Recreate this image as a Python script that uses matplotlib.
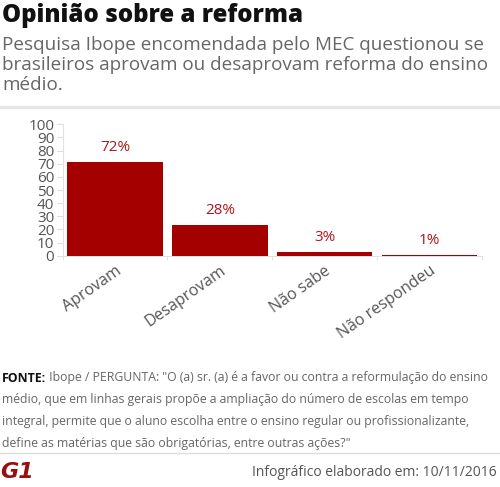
import matplotlib
matplotlib.use('Agg')
import matplotlib.pyplot as plt
from matplotlib.lines import Line2D

# dados
categorias = ['Aprovam', 'Desaprovam', 'Não sabe', 'Não respondeu']
valores = [71, 23.5, 2.6, 0.8]
rotulos = ['72%', '28%', '3%', '1%']
yticks = list(range(0, 101, 10))

W, H = 500, 487
plt.rcParams['font.family'] = ['Open Sans', 'DejaVu Sans']

fig = plt.figure(figsize=(W / 100, H / 100), dpi=100)
fig.patch.set_facecolor('white')


def fy(px):
    return 1 - px / H


# cabeçalho
fig.text(2 / W, fy(15), 'Opinião sobre a reforma', fontsize=17.3, fontweight='heavy',
         color='#111111', va='center', ha='left')
subtitulo = ['Pesquisa Ibope encomendada pelo MEC questionou se',
             'brasileiros aprovam ou desaprovam reforma do ensino',
             'médio.']
for i, linha in enumerate(subtitulo):
    fig.text(2 / W, fy(45 + i * 20), linha, fontsize=13.6, color='#666666',
             va='center', ha='left')
fig.add_artist(Line2D([0, 1], [fy(107), fy(107)], color='#e6e6e6', lw=2.5,
                      transform=fig.transFigure))

# gráfico
ax = fig.add_axes([62.5 / W, fy(255.7), (482 - 62.5) / W, (255.7 - 124.3) / H])
x = list(range(len(categorias)))
ax.bar(x, valores, width=0.91, color='#a50000', zorder=3)
for xi, v, r in zip(x, valores, rotulos):
    ax.annotate(r, (xi, v), xytext=(0, 5), textcoords='offset points',
                ha='center', va='bottom', fontsize=11, color='#b3131b')
ax.set_xlim(-0.5, len(categorias) - 0.5)
ax.set_ylim(0, 100)
ax.set_yticks(yticks)
ax.set_yticklabels([str(t) for t in yticks], fontsize=11, color='#555555')
ax.set_xticks(x)
ax.set_xticklabels(categorias, rotation=35, ha='right', rotation_mode='anchor',
                   fontsize=11.5, color='#555555')
ax.tick_params(axis='x', length=0, pad=5)
ax.set_xticks([i + 0.5 for i in range(-1, len(categorias))], minor=True)
ax.tick_params(axis='x', which='minor', length=3, color='#dddddd')
ax.tick_params(axis='y', length=4, color='#dddddd', pad=2)
for s in ['top', 'right']:
    ax.spines[s].set_visible(False)
for s in ['left', 'bottom']:
    ax.spines[s].set_color('#e2e2e2')

# rodapé
tam = 8.8
t_fonte = fig.text(2 / W, fy(378), 'FONTE:', fontsize=tam, fontweight='bold',
                   color='#111111', va='center', ha='left')
ax.annotate(' Ibope / PERGUNTA: "O (a) sr. (a) é a favor ou contra a reformulação do ensino',
            xy=(1, 0.5), xycoords=t_fonte, va='center', ha='left',
            fontsize=tam, color='#666666', annotation_clip=False)
fonte = ['médio, que em linhas gerais propõe a ampliação do número de escolas em tempo',
         'integral, permite que o aluno escolha entre o ensino regular ou profissionalizante,',
         'define as matérias que são obrigatórias, entre outras ações?"']
for i, linha in enumerate(fonte):
    fig.text(2 / W, fy(400 + i * 22), linha, fontsize=tam, color='#666666',
             va='center', ha='left')
fig.add_artist(Line2D([0, 1], [fy(453), fy(453)], color='#dddddd', lw=1,
                      transform=fig.transFigure))
fig.text(0 / W, fy(472), 'G1', fontsize=16, fontweight='heavy', fontstyle='italic',
         color='#9a0e0e', va='center', ha='left', family=['DejaVu Sans'])
fig.text(497 / W, fy(473), 'Infográfico elaborado em: 10/11/2016', fontsize=10,
         color='#555555', va='center', ha='right')

fig.savefig('out.png', dpi=100, facecolor='white')
